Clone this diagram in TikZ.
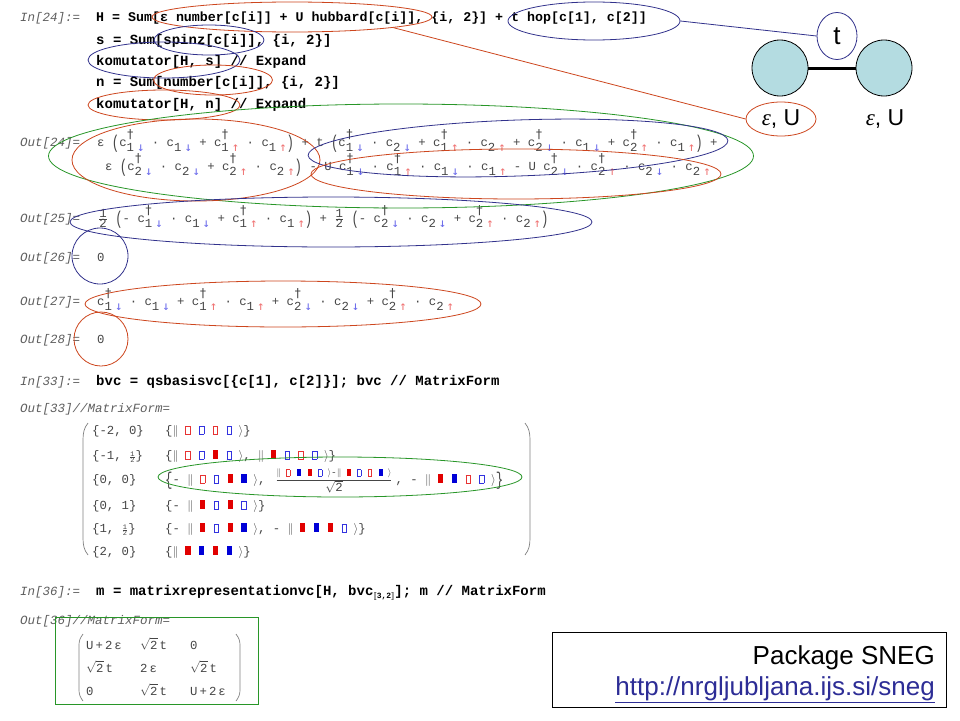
\documentclass[tikz,border=0pt]{standalone}
\usepackage{fontspec}
\usepackage{graphicx}
\usetikzlibrary{shapes.geometric}
\setmainfont{Liberation Sans}
\newfontfamily\mono{Liberation Mono}
\newfontfamily\djm{DejaVu Sans Mono}
\newfontfamily\serif{Liberation Serif}
\definecolor{outgray}{RGB}{70,70,70}
\definecolor{labgray}{RGB}{95,95,95}
\definecolor{arrdn}{RGB}{105,105,235}
\definecolor{arrup}{RGB}{240,115,115}
\definecolor{ellred}{RGB}{205,70,30}
\definecolor{ellblue}{RGB}{50,50,140}
\definecolor{ellgreen}{RGB}{40,150,40}
\definecolor{bred}{RGB}{225,0,0}
\definecolor{bblue}{RGB}{0,0,215}
\definecolor{nodefill}{RGB}{180,220,225}
\definecolor{linkblue}{RGB}{45,45,150}
\newcommand\lo[1]{\raisebox{-0.42em}{#1}}
\newcommand\dn{{\djm\color{arrdn}↓}}
\newcommand\up{{\djm\color{arrup}↑}}
\newcommand\Dg[2]{c\rlap{\raisebox{0.62em}{\djm †}}\lo{#1}\hspace{0.25em}\lo{#2}}
\newcommand\Cn[2]{c\lo{#1}\hspace{0.25em}\lo{#2}}
\newcommand\Dd[1]{\Dg{#1}{\dn}}
\newcommand\Du[1]{\Dg{#1}{\up}}
\newcommand\Nd[1]{\Cn{#1}{\dn}}
\newcommand\Nu[1]{\Cn{#1}{\up}}
\newcommand\bpar[1]{\raisebox{-0.2em}{\scalebox{1}[1.5]{#1}}}
\newcommand\hf{$\frac{\hbox{1}}{\hbox{2}}$}
\newcommand\shf{{\fontsize{7}{7}\selectfont$\frac{\hbox{1}}{\hbox{2}}$}}
\newcommand\bx[2]{\ifnum#2=1 \textcolor{#1}{\rule{0.42em}{0.75em}}\else{\setlength\fboxsep{0pt}\setlength\fboxrule{0.06em}\color{#1!80}\fbox{\rule{0pt}{0.63em}\hspace{0.3em}}}\fi}
\newcommand\kt[4]{$\|$\hspace{0.55em}\bx{bred}{#1}\hspace{0.7em}\bx{bblue}{#2}\hspace{0.7em}\bx{bred}{#3}\hspace{0.7em}\bx{bblue}{#4}\hspace{0.55em}$\rangle$}
\newcommand\sq{$\sqrt{\hbox{2}}$}
\begin{document}
\begin{tikzpicture}[x=1pt,y=-1pt,
 lab/.style={anchor=base west, inner sep=0pt, text=labgray, font={\mono\itshape\fontsize{12.5}{14}\selectfont}},
 inp/.style={anchor=base west, inner sep=0pt, font={\mono\bfseries\fontsize{14}{16}\selectfont}},
 outp/.style={anchor=base west, inner sep=0pt, text=outgray, font={\mono\fontsize{12.3}{14}\selectfont}},
 ell/.style={ellipse, draw, inner sep=0pt, line width=0.8pt},
 paren/.style={draw=gray, line width=0.7pt},
 big/.style={inner sep=0pt, font={\fontsize{26}{28}\selectfont}},
]
\fill[white] (0,0) rectangle (960,720);
\useasboundingbox (0,0) rectangle (960,720);

% labels
\node[lab] (lin24) at (20,21) {In[24]:=};
\node[lab] (lout24) at (20,146) {Out[24]=};
\node[lab] (lout25) at (20,222) {Out[25]=};
\node[lab] (lout26) at (20,261) {Out[26]=};
\node[lab] (lout27) at (20,305) {Out[27]=};
\node[lab] (lout28) at (20,343) {Out[28]=};
\node[lab] (lin33) at (20,385) {In[33]:=};
\node[lab] (lout33) at (20,412) {Out[33]//MatrixForm=};
\node[lab] (lin36) at (20,595) {In[36]:=};
\node[lab] (lout36) at (20,624) {Out[36]//MatrixForm=};

% inputs
\node[inp,font={\mono\bfseries\fontsize{13.3}{16}\selectfont}] (i1) at (96,21) {H = Sum[ε number[c[i]] + U hubbard[c[i]], \{i, 2\}] + t hop[c[1], c[2]]};
\node[inp] (i2) at (96,44) {s = Sum[spinz[c[i]], \{i, 2\}]};
\node[inp] (i3) at (96,65) {komutator[H, s] // Expand};
\node[inp] (i4) at (96,86) {n = Sum[number[c[i]], \{i, 2\}]};
\node[inp] (i5) at (96,108) {komutator[H, n] // Expand};
\node[inp] (i33) at (96,385) {bvc = qsbasisvc[\{c[1], c[2]\}]; bvc // MatrixForm};
\node[inp] (i36) at (96,595) {m = matrixrepresentationvc[H, bvc\raisebox{-3pt}{\fontsize{8}{8}\selectfont$[\![$3,2$]\!]$}]; m // MatrixForm};

% outputs
\node[outp] (o24a) at (97,146) {ε \bpar{(}\Dd{1} · \Nd{1} + \Du{1} · \Nu{1}\bpar{)} + t \bpar{(}\Dd{1} · \Nd{2} + \Du{1} · \Nu{2} + \Dd{2} · \Nd{1} + \Du{2} · \Nu{1}\bpar{)} +};
\node[outp] (o24b) at (105,170) {ε \bpar{(}\Dd{2} · \Nd{2} + \Du{2} · \Nu{2}\bpar{)} - U \Dd{1} · \Du{1} · \Nd{1} · \Nu{1} - U \Dd{2} · \Du{2} · \Nd{2} · \Nu{2}};
\node[outp] (o25) at (98,222) {\hf\ \bpar{(}- \Dd{1} · \Nd{1} + \Du{1} · \Nu{1}\bpar{)} + \hf\ \bpar{(}- \Dd{2} · \Nd{2} + \Du{2} · \Nu{2}\bpar{)}};
\node[outp] (o26) at (97,261) {0};
\node[outp] (o27) at (97,305) {\Dd{1} · \Nd{1} + \Du{1} · \Nu{1} + \Dd{2} · \Nd{2} + \Du{2} · \Nu{2}};
\node[outp] (o28) at (97,343) {0};

% basis matrix
\draw[paren] (88,423) .. controls (84,428) and (83,433) .. (83,440) -- (83,538) .. controls (83,545) and (84,550) .. (88,555);
\draw[paren] (525,423) .. controls (529,428) and (530,433) .. (530,440) -- (530,538) .. controls (530,545) and (529,550) .. (525,555);
\node[outp] (m11) at (92,434) {\{-2, 0\}};
\node[outp] (m21) at (92,459) {\{-1, \shf\}};
\node[outp] (m31) at (92,483) {\{0, 0\}};
\node[outp] (m41) at (92,509) {\{0, 1\}};
\node[outp] (m51) at (92,532) {\{1, \shf\}};
\node[outp] (m61) at (92,555) {\{2, 0\}};
\node[outp] (m12) at (165,434) {\{\kt0000\}};
\node[outp] (m22) at (165,459) {\{\kt0010, \kt1000\}};
\node[outp] (m32) at (165,483) {\bpar{\{}- \kt0011,\hspace{10pt}$\frac{\raisebox{2.5pt}{\hbox{\fontsize{9.5}{10}\selectfont\kt0110-\kt1001}}}{\hbox{\sq}}$\hspace{3pt}, - \kt1100\bpar{\}}};
\node[outp] (m42) at (165,509) {\{- \kt1010\}};
\node[outp] (m52) at (165,532) {\{- \kt1011, - \kt1110\}};
\node[outp] (m62) at (165,555) {\{\kt1111\}};

% hamiltonian matrix
\draw[paren] (83,634) .. controls (80,638) and (79,641) .. (79,645) -- (79,690) .. controls (79,694) and (80,697) .. (83,701);
\draw[paren] (236,634) .. controls (239,638) and (240,641) .. (240,645) -- (240,690) .. controls (240,694) and (239,697) .. (236,701);
\node[outp] (h11) at (86,649) {U\,+\,2\,ε};
\node[outp] (h12) at (140,649) {\sq\,t};
\node[outp] (h13) at (190,649) {0};
\node[outp] (h21) at (86,672) {\sq\,t};
\node[outp] (h22) at (140,672) {2\,ε};
\node[outp] (h23) at (190,672) {\sq\,t};
\node[outp] (h31) at (86,695) {0};
\node[outp] (h32) at (140,695) {\sq\,t};
\node[outp] (h33) at (190,695) {U\,+\,2\,ε};
\node[draw=ellgreen, line width=0.8pt, minimum width=203, minimum height=87, anchor=north west, inner sep=0pt] (mrect) at (55,617) {};

% ellipses
\node[ell, draw=ellred, minimum width=280, minimum height=30] (e1) at (292,17) {};
\node[ell, draw=ellblue, minimum width=172, minimum height=38] (e2) at (594,21) {};
\node[ell, draw=ellblue, minimum width=110, minimum height=30] (e3) at (209,40) {};
\node[ell, draw=ellblue, minimum width=152, minimum height=36] (e4) at (164,60) {};
\node[ell, draw=ellred, minimum width=119, minimum height=30] (e5) at (213,80) {};
\node[ell, draw=ellred, minimum width=152, minimum height=30] (e6) at (164,105) {};
\node[ell, draw=ellgreen, minimum width=705, minimum height=104] (e7) at (401,156) {};
\node[ell, draw=ellred, minimum width=248, minimum height=82] (e8) at (196,160) {};
\node[ell, draw=ellblue, minimum width=420, minimum height=56, rotate=2] (e9) at (518,148) {};
\node[ell, draw=ellred, minimum width=410, minimum height=50] (e10) at (516,174) {};
\node[ell, draw=ellblue, minimum width=522, minimum height=50] (e11) at (331,222) {};
\node[ell, draw=ellblue, minimum width=56, minimum height=56] (e12) at (100,256) {};
\node[ell, draw=ellred, minimum width=396, minimum height=46] (e13) at (283,304) {};
\node[ell, draw=ellred, minimum width=54, minimum height=54] (e14) at (101,339) {};
\node[ell, draw=ellgreen, minimum width=364, minimum height=40] (e15) at (340,477) {};

% two-site diagram
\node[circle, draw, fill=nodefill, minimum size=56, inner sep=0pt, line width=0.8pt] (s1) at (780,68) {};
\node[circle, draw, fill=nodefill, minimum size=56, inner sep=0pt, line width=0.8pt] (s2) at (884,68) {};
\draw[line width=3pt] (s1) -- (s2);
\node[ell, draw=ellblue, minimum width=40, minimum height=47, font={\fontsize{26}{28}\selectfont}] (tel) at (837,36) {t};
\node[ell, draw=ellred, minimum width=70, minimum height=34, font={\fontsize{23}{25}\selectfont}] (eu1) at (781,119) {{\serif\itshape ε}, U};
\node[inner sep=0pt, font={\fontsize{23}{25}\selectfont}] (eu2) at (885,119) {{\serif\itshape ε}, U};
\draw[ellblue, line width=0.8pt] (e2.east) -- (tel.west);
\draw[ellred, line width=0.8pt] (e1.-6) -- (eu1.west);

% package box
\node[draw, line width=0.8pt, minimum width=394, minimum height=75, anchor=north west, inner sep=0pt] (pkgbox) at (552,632) {};
\node[big, anchor=base east] (pkg) at (935,664) {Package SNEG};
\node[big, anchor=base east, text=linkblue] (url) at (935,695) {\underline{http://nrgljubljana.ijs.si/sneg}};
\end{tikzpicture}
\end{document}
